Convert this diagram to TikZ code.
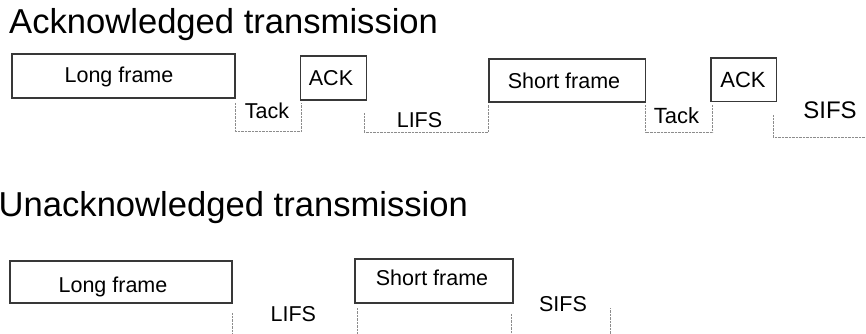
\documentclass[tikz,border=0pt]{standalone}
\usepackage{fontspec}
\setmainfont{Liberation Sans}
\begin{document}
\begin{tikzpicture}[x=1pt,y=-1pt,
  framebox/.style={draw=black!78,line width=1.2pt,inner sep=0pt},
  lbl/.style={anchor=base,inner sep=0pt,font=\fontsize{21.5}{21.5}\selectfont},
  heading/.style={anchor=base west,inner sep=0pt,font=\fontsize{34.6}{34.6}\selectfont},
  gap/.style={draw=black!45,line width=0.9pt,dash pattern=on 0.7pt off 0.7pt}]
\useasboundingbox (0,0) rectangle (866,334);

% headings
\node[heading] (h1) at (9,34) {Acknowledged transmission};
\node[heading] (h2) at (-1.5,216) {Unacknowledged transmission};

% ---- acknowledged sequence: frames ----
\node[framebox,minimum width=223pt,minimum height=44pt] (lf1) at (123.5,76) {};
\node[framebox,minimum width=66pt,minimum height=44pt] (ack1) at (333.7,78) {};
\node[framebox,minimum width=156.7pt,minimum height=43pt] (sf1) at (567.3,80.5) {};
\node[framebox,minimum width=65.7pt,minimum height=43.7pt] (ack2) at (743.8,79.8) {};

\node[lbl] (lf1t) at (119,83) {Long frame};
\node[lbl] (ack1t) at (331,85) {ACK};
\node[lbl] (sf1t) at (564,88.3) {Short frame};
\node[lbl,font=\fontsize{22}{22}\selectfont] (ack2t) at (743,88) {ACK};

% ---- acknowledged sequence: idle gaps ----
\coordinate (t1a) at (235,103);   \coordinate (t1b) at (301.7,103);
\coordinate (l1a) at (364,113);   \coordinate (l1b) at (488,105);
\coordinate (t2a) at (645.7,105); \coordinate (t2b) at (712.7,105);
\coordinate (s1a) at (773,115);   \coordinate (s1b) at (866,137);

\draw[gap] (t1a) |- (301.7,131) -- (t1b);
\draw[gap] (l1a) |- (488,132.5) -- (l1b);
\draw[gap] (t2a) |- (712.7,132) -- (t2b);
\draw[gap] (s1a) |- (s1b);

\node[lbl] (tack1) at (267,118.3) {Tack};
\node[lbl] (lifs1) at (419.5,127) {LIFS};
\node[lbl,font=\fontsize{22}{22}\selectfont] (tack2) at (676.5,123) {Tack};
\node[lbl,font=\fontsize{24}{24}\selectfont] (sifs1) at (830,118.3) {SIFS};

% ---- unacknowledged sequence ----
\node[framebox,minimum width=222pt,minimum height=42pt] (lf2) at (121,282) {};
\node[framebox,minimum width=158pt,minimum height=44pt] (sf2) at (434,281) {};

\node[lbl] (lf2t) at (113,292.7) {Long frame};
\node[lbl] (sf2t) at (432,285) {Short frame};

\coordinate (l2a) at (232,313);   \coordinate (l2b) at (357,308);
\coordinate (s2a) at (511.5,314); \coordinate (s2b) at (610,308);

\draw[gap] (l2a) |- (357,334.3) -- (l2b);
\draw[gap] (s2a) |- (610,334.3) -- (s2b);

\node[lbl] (lifs2) at (293.3,321.7) {LIFS};
\node[lbl] (sifs2) at (563,311.7) {SIFS};
\end{tikzpicture}
\end{document}
